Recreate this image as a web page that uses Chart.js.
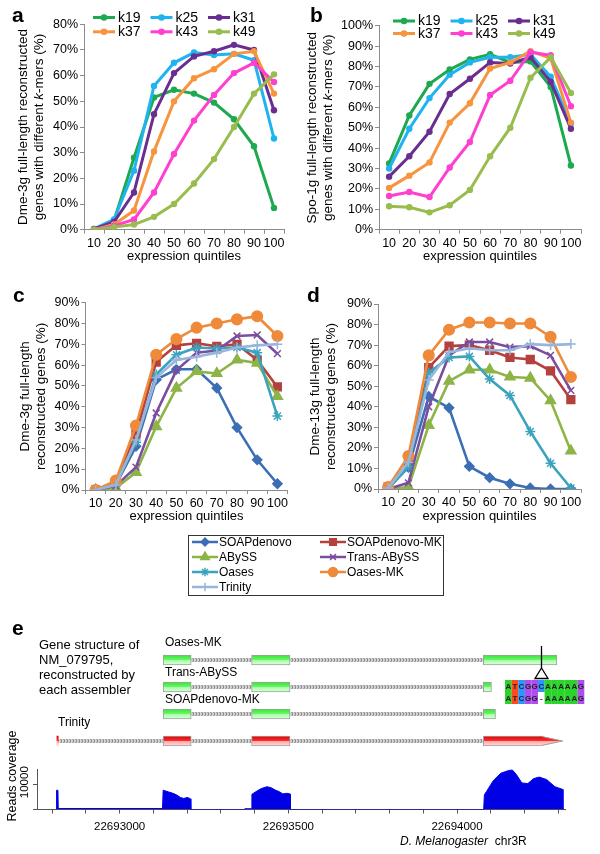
<!DOCTYPE html>
<html>
<head>
<meta charset="utf-8">
<script src="https://cdn.jsdelivr.net/npm/chart.js"></script>
<style>
  body { margin: 0; background: #fff; }
  #fig { position: relative; width: 600px; height: 854px; overflow: hidden; }
  canvas { position: absolute; }
</style>
</head>
<body>
<div id="fig">
  <canvas id="ca" width="300" height="270" style="left:0;top:0"></canvas>
  <canvas id="cb" width="300" height="270" style="left:300px;top:0"></canvas>
  <canvas id="cc" width="600" height="340" style="left:0;top:270px"></canvas>
  <canvas id="cd" width="300" height="270" style="left:300px;top:270px"></canvas>
  <canvas id="ce" width="600" height="145" style="left:0;top:615px"></canvas>
  <canvas id="cf" width="600" height="134" style="left:0;top:720px"></canvas>
</div>
<script>
// ---- data ----
const quintiles = ['10', '20', '30', '40', '50', '60', '70', '80', '90', '100'];
const kmers = ['k19', 'k25', 'k31', 'k37', 'k43', 'k49'];

// panel a : Dme-3g, % full-length per k-mer
const a19 = [0, 3.5, 28, 51.5, 54.5, 53, 49.5, 43, 32.5, 8.5];
const a25 = [0.3, 4, 23, 56, 65, 69, 68, 68.5, 66, 35.5];
const a31 = [0.3, 3, 14.5, 45, 61, 67.5, 69.5, 72, 70, 46.5];
const a37 = [0, 2, 7.5, 30.5, 50, 59, 62.5, 68.5, 69.5, 53];
const a43 = [0, 1.5, 4, 14.5, 29.5, 42.5, 52.5, 61, 65, 57.5];
const a49 = [0, 1, 2, 5, 10, 18, 27.5, 40, 53, 60.5];

// panel b : Spo-1g
const b19 = [32.5, 56, 71.5, 78.5, 83.5, 86, 82, 82.5, 70, 31.5];
const b25 = [30, 49.5, 64.5, 76, 82, 84.5, 84.5, 86, 75, 52];
const b31 = [26, 36, 48, 66.5, 74, 82, 81.5, 84.5, 72.5, 49.5];
const b37 = [20.5, 26.5, 33, 52.5, 62, 79, 82, 87.5, 84, 52.5];
const b43 = [16.5, 18.5, 16, 30.5, 43, 66, 73, 87, 85.5, 60.5];
const b49 = [11.5, 11, 8.5, 12, 19.5, 36, 50, 74.5, 84.5, 67];

const assemblers = ['SOAPdenovo', 'SOAPdenovo-MK', 'ABySS', 'Trans-ABySS', 'Oases', 'Oases-MK', 'Trinity'];

// panel c : Dme-3g per assembler
const cSoap = [0, 2.5, 21, 53, 58, 58, 49, 30, 14.5, 3];
const cSoapMK = [0, 3.5, 27, 61.5, 69.5, 70.5, 69, 70, 62.5, 49.5];
const cAbyss = [0, 1, 8.5, 30.5, 49, 57, 56, 62.5, 61, 45];
const cTrans = [0, 2, 11, 37, 57.5, 66, 67, 74, 74.5, 65.5];
const cOases = [0, 3, 23, 55.5, 65, 68.5, 68, 68.5, 66, 35.5];
const cOasesMK = [0, 4.5, 31, 65, 72.5, 78, 80, 82, 83.5, 74];
const cTrinity = [0, 2.5, 24, 54, 62.5, 64, 66, 68.5, 69.5, 70];

// panel d : Dme-13g per assembler
const dSoap = [0.5, 10.5, 45, 39.5, 11, 5.5, 2.5, 0.5, 0, 0];
const dSoapMK = [1, 12, 59, 69.5, 70, 67.5, 64, 63, 57.5, 43.5];
const dAbyss = [0, 1, 31, 52.5, 58, 58, 54.5, 54, 43, 18.5];
const dTrans = [0, 3, 40, 65, 71.5, 71.5, 69, 69.5, 65, 48];
const dOases = [0, 11, 56.5, 64, 64.5, 53.5, 45.5, 28, 12.5, 0.5];
const dOasesMK = [1, 16, 65, 77.5, 81, 81, 80.5, 80.5, 74, 54.5];
const dTrinity = [0.5, 13, 53, 66.5, 68.5, 67.5, 67.5, 70.5, 70, 70.5];

// panel e : gene models (genomic coordinates, chr3R)
const tracks = ['Oases-MK', 'Trans-ABySS', 'SOAPdenovo-MK', 'Trinity'];
const oasesMKExons = [[22693129, 22693212], [22693391, 22693505], [22694078, 22694296]];
const transAbyssExons = [[22693129, 22693212], [22693391, 22693505], [22694078, 22694102]];
const soapMKExons = [[22693129, 22693212], [22693391, 22693505], [22694078, 22694114]];
const trinityExons = [[22692814, 22692818], [22693129, 22693212], [22693391, 22693505], [22694078, 22694253]];
const trinityArrowTip = 22694313;
const deletionSite = 22694248;
const refSeq = 'ATCGGCAAAAAG';
const asmSeq = 'ATCGG-AAAAAG';

// reads coverage
const covPos = [22692812, 22692813, 22692817, 22692818, 22693127, 22693129, 22693145, 22693160, 22693170,
  22693180, 22693190, 22693200, 22693207, 22693210, 22693211, 22693370, 22693371, 22693390, 22693392,
  22693404, 22693420, 22693437, 22693449, 22693461, 22693473, 22693484, 22693495, 22693505, 22693506,
  22694079, 22694081, 22694087, 22694108, 22694130, 22694153, 22694164, 22694176, 22694192, 22694210,
  22694227, 22694244, 22694266, 22694290, 22694313, 22694314];
const covVal = [0, 7600, 7600, 400, 400, 7600, 6950, 6300, 5650,
  4750, 4350, 4750, 4400, 4200, 0, 0, 300, 300, 6000,
  7050, 8300, 9000, 8600, 7700, 7050, 6150, 6400, 6150, 0,
  0, 5800, 7050, 11500, 14350, 15400, 15600, 13800, 10500, 10250,
  12200, 12800, 11800, 9000, 7950, 0];
const covTicks = [0, 10000];
const X_MIN = 22692755, X_MAX = 22694320;

// ---- styles ----
const FONT = "'Liberation Sans', Arial, sans-serif";
const AXIS = '#8c8c8c';
const kColors = ['#1ea84f', '#1fb4ef', '#6a2d90', '#f7943e', '#ff3fd0', '#98bd4e'];
const asmColors = ['#3c6eb4', '#b5413f', '#8db446', '#7a4d9e', '#3ba3be', '#ee8a3a', '#98b5de'];
const asmPoints = ['rectRot', 'rect', 'triangle', 'crossRot', 'star', 'circle', 'cross'];
const asmRadius = [4.6, 5.5, 5.8, 4.8, 5, 5.3, 5];

Chart.defaults.font.family = FONT;
Chart.defaults.color = '#000';
Chart.defaults.animation = false;
Chart.defaults.events = [];
Chart.defaults.plugins.legend.display = false;
Chart.defaults.plugins.tooltip.enabled = false;

function kDatasets(series) {
  return series.map((data, i) => ({
    label: kmers[i], data,
    borderColor: kColors[i], backgroundColor: kColors[i],
    borderWidth: 3, pointRadius: 3.2, pointBorderWidth: 0,
    pointBackgroundColor: kColors[i], order: series.length - i
  }));
}

function asmDatasets(series) {
  return series.map((data, i) => ({
    label: assemblers[i], data,
    borderColor: asmColors[i], backgroundColor: asmColors[i],
    borderWidth: 2.6, pointStyle: asmPoints[i], pointRadius: asmRadius[i],
    pointBorderWidth: 1.5, pointBackgroundColor: asmColors[i], pointBorderColor: asmColors[i],
    order: series.length - i
  }));
}

function pctAxes(o) {
  return {
    x: {
      type: 'category', labels: quintiles, offset: true,
      grid: { offset: true, drawOnChartArea: false, tickLength: 4, color: AXIS },
      border: { color: AXIS },
      ticks: { font: { size: 12.5 }, padding: 2, maxRotation: 0, autoSkip: false },
      title: { display: true, text: 'expression quintiles', font: { size: 13 }, padding: { top: 0, bottom: o.xtPad } },
      afterFit: s => { s.height = o.xh; }
    },
    y: {
      min: 0, max: o.max,
      ticks: { stepSize: 10, font: { size: 12.5 }, padding: 2, callback: v => v + '%' },
      grid: { drawOnChartArea: false, tickLength: 4, color: AXIS },
      border: { color: AXIS },
      title: { display: !!o.title, text: o.title || '', font: { size: 13.5, lineHeight: 1.2 }, padding: { top: o.ytPad, bottom: 0 } },
      afterFit: s => { s.width = o.yw; }
    }
  };
}

function letter(ch, x, y) {
  return {
    id: 'letter',
    afterDraw(c) {
      const g = c.ctx;
      g.save();
      g.font = 'bold 21px ' + FONT;
      g.fillStyle = '#000';
      g.fillText(ch, x, y);
      g.restore();
    }
  };
}

// y title with italic "k" in "k-mers"
function kTitle(line1, x1, x2) {
  return {
    id: 'ktitle',
    afterDraw(c) {
      const g = c.ctx, a = c.chartArea, cy = (a.top + a.bottom) / 2;
      g.save();
      g.fillStyle = '#000';
      g.textBaseline = 'middle';
      g.translate(x1, cy);
      g.rotate(-Math.PI / 2);
      g.font = '13.5px ' + FONT;
      g.textAlign = 'center';
      g.fillText(line1, 0, 0);
      g.restore();
      const parts = [['genes with different ', ''], ['k', 'italic '], ['-mers (%)', '']];
      g.save();
      g.fillStyle = '#000';
      g.textBaseline = 'middle';
      g.translate(x2, cy);
      g.rotate(-Math.PI / 2);
      let total = 0;
      parts.forEach(p => { g.font = p[1] + '13.5px ' + FONT; total += g.measureText(p[0]).width; });
      let x = -total / 2;
      parts.forEach(p => { g.font = p[1] + '13.5px ' + FONT; g.fillText(p[0], x, 0); x += g.measureText(p[0]).width; });
      g.restore();
    }
  };
}

function kLegend(x0, dx, y0, dy) {
  return {
    id: 'klegend',
    afterDraw(c) {
      const g = c.ctx;
      g.save();
      g.font = '14px ' + FONT;
      g.textBaseline = 'middle';
      c.data.datasets.forEach((d, i) => {
        const x = x0 + (i % 3) * dx, y = y0 + Math.floor(i / 3) * dy;
        g.strokeStyle = d.borderColor;
        g.lineWidth = 3;
        g.beginPath(); g.moveTo(x, y); g.lineTo(x + 22, y); g.stroke();
        g.fillStyle = d.borderColor;
        g.beginPath(); g.arc(x + 11, y, 3.3, 0, Math.PI * 2); g.fill();
        g.fillStyle = '#000';
        g.fillText(d.label, x + 25, y + 0.5);
      });
      g.restore();
    }
  };
}

function mark(g, style, x, y, r) {
  if (Chart.helpers && Chart.helpers.drawPoint) {
    Chart.helpers.drawPoint(g, { pointStyle: style, radius: r, rotation: 0, borderWidth: 1.5 }, x, y);
  } else {
    g.beginPath(); g.arc(x, y, r, 0, Math.PI * 2); g.fill();
  }
}

// ---- a ----
new Chart(document.getElementById('ca'), {
  type: 'line',
  data: { labels: quintiles, datasets: kDatasets([a19, a25, a31, a37, a43, a49]) },
  options: {
    responsive: false,
    layout: { padding: { left: 0, top: 24.3, right: 16, bottom: 0 } },
    scales: pctAxes({ max: 80, yw: 84, xh: 40.3, xtPad: 5.5 })
  },
  plugins: [letter('a', 12, 22), kLegend(93, 57.5, 17.5, 14.3), kTitle('Dme-3g full-length reconstructed', 23, 39)]
});

// ---- b ----
new Chart(document.getElementById('cb'), {
  type: 'line',
  data: { labels: quintiles, datasets: kDatasets([b19, b25, b31, b37, b43, b49]) },
  options: {
    responsive: false,
    layout: { padding: { left: 0, top: 25.7, right: 19, bottom: 0 } },
    scales: pctAxes({ max: 100, yw: 79, xh: 40.3, xtPad: 5.5 })
  },
  plugins: [letter('b', 10, 22), kLegend(93, 57.5, 21, 12.5), kTitle('Spo-1g full-length reconstructed', 12, 28)]
});

// ---- c (with shared legend) ----
const asmLegend = {
  id: 'asmLegend',
  afterDraw(c) {
    const g = c.ctx;
    g.save();
    g.strokeStyle = '#333';
    g.lineWidth = 1;
    g.strokeRect(188.5, 265.5, 255, 60);
    g.font = '12px ' + FONT;
    g.textBaseline = 'middle';
    c.data.datasets.forEach((d, i) => {
      const x = i % 2 ? 320 : 192, y = 272 + Math.floor(i / 2) * 15;
      g.strokeStyle = d.borderColor;
      g.fillStyle = d.borderColor;
      g.lineWidth = 2.5;
      g.beginPath(); g.moveTo(x, y); g.lineTo(x + 26, y); g.stroke();
      g.lineWidth = 1.5;
      mark(g, d.pointStyle, x + 13, y, d.pointRadius * 0.85);
      g.fillStyle = '#000';
      g.fillText(d.label, x + 27, y + 0.5);
    });
    g.restore();
  }
};

new Chart(document.getElementById('cc'), {
  type: 'line',
  data: { labels: quintiles, datasets: asmDatasets([cSoap, cSoapMK, cAbyss, cTrans, cOases, cOasesMK, cTrinity]) },
  options: {
    responsive: false,
    layout: { padding: { left: 0, top: 32.7, right: 312.5, bottom: 70 } },
    scales: pctAxes({ max: 90, yw: 85.5, xh: 50, xtPad: 15.5, ytPad: 17,
      title: ['Dme-3g full-length', 'reconstructed genes (%)'] })
  },
  plugins: [letter('c', 13, 32), asmLegend]
});

// ---- d ----
new Chart(document.getElementById('cd'), {
  type: 'line',
  data: { labels: quintiles, datasets: asmDatasets([dSoap, dSoapMK, dAbyss, dTrans, dOases, dOasesMK, dTrinity]) },
  options: {
    responsive: false,
    layout: { padding: { left: 0, top: 34, right: 19, bottom: 0 } },
    scales: pctAxes({ max: 90, yw: 78, xh: 51, xtPad: 15.5, ytPad: 7,
      title: ['Dme-13g full-length', 'reconstructed genes (%)'] })
  },
  plugins: [letter('d', 7, 32)]
});

// ---- e : gene structures ----
const modelExons = [oasesMKExons, transAbyssExons, soapMKExons, trinityExons];
const exonData = [], intronData = [];
modelExons.forEach((ex, t) => {
  ex.forEach(e => exonData.push({ y: tracks[t], x: e }));
  intronData.push({ y: tracks[t], x: [ex[0][1], ex[ex.length - 1][0]] });
});

const ceCtx = document.getElementById('ce').getContext('2d');
const pc = document.createElement('canvas');
pc.width = 3; pc.height = 3;
const pg = pc.getContext('2d');
pg.fillStyle = '#d2d2d2'; pg.fillRect(0, 0, 3, 3);
pg.fillStyle = '#8a8a8a'; pg.fillRect(0, 1, 2, 1); pg.fillRect(1, 0, 1, 3);
const intronPattern = ceCtx.createPattern(pc, 'repeat');

function exonGradient(g, y, red) {
  const gr = g.createLinearGradient(0, y - 5, 0, y + 5);
  if (red) {
    gr.addColorStop(0, '#dd0000'); gr.addColorStop(0.45, '#ff2a2a');
    gr.addColorStop(0.55, '#ffaaaa'); gr.addColorStop(1, '#ffdede');
  } else {
    gr.addColorStop(0, '#33e633'); gr.addColorStop(0.45, '#66f566');
    gr.addColorStop(0.55, '#a8ffa8'); gr.addColorStop(1, '#dcffdc');
  }
  return gr;
}

function exonFill(c) {
  const red = c.raw && c.raw.y === 'Trinity';
  const area = c.chart.chartArea;
  if (!c.raw || !area) return red ? '#ff4040' : '#55ee55';
  const y = area.top + (tracks.indexOf(c.raw.y) + 0.5) * (area.bottom - area.top) / tracks.length;
  if (!isFinite(y)) return red ? '#ff4040' : '#55ee55';
  return exonGradient(c.chart.ctx, y, red);
}

const geneExtras = {
  id: 'geneExtras',
  afterDatasetsDraw(c) {
    const g = c.ctx;
    const meta = c.getDatasetMeta(0);
    const bar = meta.data[exonData.length - 1];
    if (!bar) return;
    const x0 = bar.x, y = bar.y;
    const x1 = c.scales.x.getPixelForValue(trinityArrowTip);
    if (!isFinite(x0) || !isFinite(y) || !isFinite(x1)) return;
    g.save();
    g.fillStyle = exonGradient(g, y, true);
    g.beginPath(); g.moveTo(x0 - 1.5, y - 5); g.lineTo(x1, y); g.lineTo(x0 - 1.5, y + 5); g.closePath(); g.fill();
    g.strokeStyle = '#a0a0a0'; g.lineWidth = 1;
    g.beginPath(); g.moveTo(x0 - 1, y - 4.5); g.lineTo(x1, y); g.lineTo(x0 - 1, y + 4.5); g.stroke();
    g.restore();
  },
  afterDraw(c) {
    const g = c.ctx, xs = c.scales.x;
    g.save();
    g.font = 'bold 21px ' + FONT;
    g.fillStyle = '#000';
    g.fillText('e', 12, 20);
    g.font = '13px ' + FONT;
    g.textBaseline = 'middle';
    ['Gene structure of', 'NM_079795,', 'reconstructed by', 'each assembler'].forEach((t, i) => g.fillText(t, 39, 30 + i * 15));
    g.font = '12px ' + FONT;
    g.fillText('Oases-MK', 165, 28);
    g.fillText('Trans-ABySS', 165, 58);
    g.fillText('SOAPdenovo-MK', 165, 85);
    g.fillText('Trinity', 58, 108);
    // deletion marker
    const xm = Math.round(xs.getPixelForValue(deletionSite)) + 0.5;
    if (isFinite(xm)) {
      g.strokeStyle = '#000'; g.lineWidth = 1.3;
      g.beginPath(); g.moveTo(xm, 31); g.lineTo(xm, 53); g.stroke();
      g.fillStyle = '#fff';
      g.beginPath(); g.moveTo(xm, 53); g.lineTo(xm + 6.5, 63.5); g.lineTo(xm - 6.5, 63.5); g.closePath(); g.fill(); g.stroke();
    }
    // alignment inset
    const baseColors = { A: '#2bd42b', T: '#ff4a1c', C: '#2a96ff', G: '#b04cf0', '-': '#ffffff' };
    g.font = 'bold 8px ' + FONT;
    g.textAlign = 'center';
    [refSeq, asmSeq].forEach((seq, r) => {
      for (let i = 0; i < seq.length; i++) {
        const x = 505 + i * 6.6, yy = 65 + r * 12;
        g.fillStyle = baseColors[seq[i]];
        g.fillRect(x, yy, 6.7, 12);
        g.fillStyle = '#222';
        g.fillText(seq[i], x + 3.3, yy + 6.5);
      }
    });
    g.restore();
  }
};

new Chart(ceCtx, {
  type: 'bar',
  data: {
    datasets: [
      { data: exonData, backgroundColor: exonFill, borderColor: '#a0a0a0',
        borderWidth: c => (c.raw && c.raw.x[1] - c.raw.x[0] < 10 ? 0 : 1),
        borderSkipped: false, barThickness: 10, grouped: false },
      { data: intronData, backgroundColor: intronPattern, borderWidth: 0, barThickness: 3, grouped: false }
    ]
  },
  options: {
    responsive: false,
    indexAxis: 'y',
    layout: { padding: { left: 37, right: 35, top: 31.5, bottom: 5.5 } },
    scales: {
      x: { type: 'linear', min: X_MIN, max: X_MAX, display: false },
      y: { type: 'category', labels: tracks, offset: true, display: false }
    }
  },
  plugins: [geneExtras]
});

// ---- e : reads coverage ----
const covExtras = {
  id: 'covExtras',
  afterDraw(c) {
    const g = c.ctx, ys = c.scales.y;
    g.save();
    g.fillStyle = '#000';
    g.textAlign = 'center';
    g.textBaseline = 'middle';
    // rotated y tick labels (ticks above zero)
    g.font = '11.5px ' + FONT;
    ys.ticks.forEach(t => {
      if (t.value <= 0) return;
      g.save();
      g.translate(25, ys.getPixelForValue(t.value) - 2);
      g.rotate(-Math.PI / 2);
      g.fillText(String(t.value), 0, 0);
      g.restore();
    });
    g.font = '12.5px ' + FONT;
    g.translate(13, 56);
    g.rotate(-Math.PI / 2);
    g.fillText('Reads coverage', 0, 0);
    g.restore();
    g.save();
    g.fillStyle = '#000';
    g.textBaseline = 'middle';
    g.font = 'italic 12px ' + FONT;
    const t1 = 'D. Melanogaster';
    g.fillText(t1, 400, 122);
    const w = g.measureText(t1 + '  ').width;
    g.font = '12px ' + FONT;
    g.fillText('chr3R', 400 + w, 122);
    g.restore();
  }
};

new Chart(document.getElementById('cf'), {
  type: 'line',
  data: {
    datasets: [{
      data: covPos.map((x, i) => ({ x, y: covVal[i] })),
      fill: 'origin', borderColor: '#0000e6', backgroundColor: '#0000e6',
      borderWidth: 1, pointRadius: 0, tension: 0
    }]
  },
  options: {
    responsive: false,
    layout: { padding: { left: 0, top: 49, right: 35, bottom: 0 } },
    scales: {
      x: {
        type: 'linear', min: X_MIN, max: X_MAX,
        ticks: { stepSize: 100, maxTicksLimit: 30, includeBounds: false, autoSkip: false,
          minRotation: 0, maxRotation: 0, padding: 6, font: { size: 11.5 },
          callback: v => (v % 500 === 0 ? String(v) : '') },
        grid: { drawOnChartArea: false, tickLength: 4, color: '#555' },
        border: { color: '#555' },
        afterFit: s => { s.height = 44.5; }
      },
      y: {
        min: 0, max: 16000,
        afterBuildTicks: s => { s.ticks = covTicks.map(v => ({ value: v })); },
        ticks: { autoSkip: false, display: false },
        grid: { drawOnChartArea: false, tickLength: 4, color: '#555' },
        border: { color: '#555' },
        afterFit: s => { s.width = 37; }
      }
    }
  },
  plugins: [covExtras]
});
</script>
</body>
</html>
